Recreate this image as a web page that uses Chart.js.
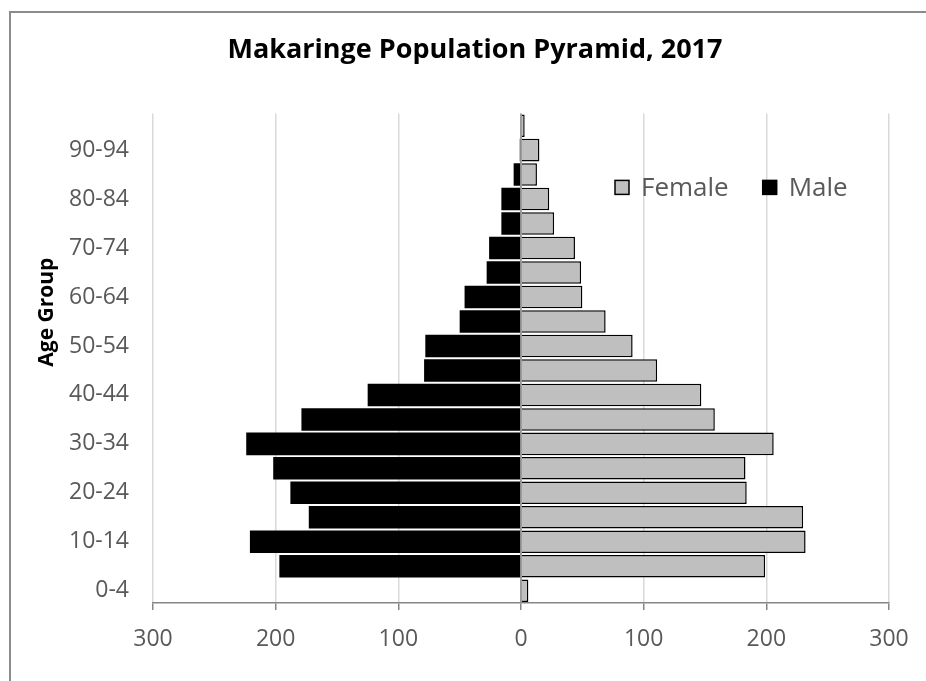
<!DOCTYPE html>
<html lang="en">
<head>
<meta charset="UTF-8" />
<title>Makaringe Population Pyramid, 2017</title>
<script src="https://cdn.jsdelivr.net/npm/chart.js"></script>
<style>
body {
    margin: 0;
    background: #fff;
    overflow: hidden;
}
.frame {
    position: absolute;
    left: 9px;
    top: 11px;
    border-left: 2px solid #8c8c8c;
    border-top: 2px solid #8c8c8c;
}
canvas { display: block; }
</style>
</head>
<body>
<div class="frame">
    <canvas id="pyramid" width="928" height="668"></canvas>
</div>
<script>
// age groups, bottom to top
const ageGroups = ['0-4', '5-9', '10-14', '15-19', '20-24', '25-29', '30-34', '35-39', '40-44', '45-49',
    '50-54', '55-59', '60-64', '65-69', '70-74', '75-79', '80-84', '85-89', '90-94', '95-99'];
const female = [6, 199, 232, 230, 184, 183, 206, 158, 147, 111, 91, 69, 50, 49, 44, 27, 23, 13, 15, 3];
const male = [0, 197, 221, 173, 188, 202, 224, 179, 125, 79, 78, 50, 46, 28, 26, 16, 16, 6, 1, 0];
const xTicks = [-300, -200, -100, 0, 100, 200, 300];

const FONT = "'Open Sans', sans-serif";

// zero axis line drawn over the bars, like the Excel vertical axis
const zeroLine = {
    id: 'zeroLine',
    afterDatasetsDraw(chart) {
        const { ctx, chartArea, scales } = chart;
        const x = scales.x.getPixelForValue(0);
        ctx.save();
        ctx.strokeStyle = '#868686';
        ctx.lineWidth = 1.5;
        ctx.beginPath();
        ctx.moveTo(x, chartArea.top);
        ctx.lineTo(x, chartArea.bottom);
        ctx.stroke();
        ctx.restore();
    }
};

// legend inside the plot (top right) and the off-centre axis title, Excel style
const extras = {
    id: 'extras',
    afterDraw(chart) {
        const { ctx, chartArea } = chart;
        const box = 14;
        const cy = chartArea.top + 74;
        let x = chartArea.left + 462;
        ctx.save();
        ctx.font = '26px ' + FONT;
        ctx.textBaseline = 'middle';
        chart.data.datasets.forEach(ds => {
            ctx.fillStyle = ds.backgroundColor;
            ctx.fillRect(x, cy - box / 2, box, box);
            ctx.strokeStyle = '#000';
            ctx.lineWidth = 1.5;
            ctx.strokeRect(x, cy - box / 2, box, box);
            ctx.fillStyle = '#595959';
            ctx.fillText(ds.label, x + 26, cy + 1);
            x += 26 + ctx.measureText(ds.label).width + 34;
        });

        ctx.translate(36, (chartArea.top + chartArea.bottom) / 2 - 46);
        ctx.rotate(-Math.PI / 2);
        ctx.font = 'bold 21px ' + FONT;
        ctx.fillStyle = '#000';
        ctx.textAlign = 'center';
        ctx.fillText('Age Group', 0, 0);
        ctx.restore();
    }
};

new Chart(document.getElementById('pyramid'), {
    type: 'bar',
    data: {
        labels: ageGroups,
        datasets: [
            {
                label: 'Female',
                data: female,
                backgroundColor: '#bfbfbf',
                borderColor: '#000',
                borderWidth: 1.5
            },
            {
                label: 'Male',
                data: male.map(v => -v),
                backgroundColor: '#000',
                borderWidth: 0
            }
        ]
    },
    options: {
        indexAxis: 'y',
        responsive: false,
        animation: false,
        devicePixelRatio: 1,
        barPercentage: 0.92,
        categoryPercentage: 1,
        plugins: {
            legend: { display: false },
            tooltip: { enabled: false },
            title: {
                display: true,
                text: 'Makaringe Population Pyramid, 2017',
                color: '#000',
                font: { family: FONT, size: 27, weight: 'bold' },
                padding: { top: 21, bottom: 47 }
            }
        },
        scales: {
            x: {
                stacked: true,
                min: -300,
                max: 300,
                afterBuildTicks: scale => { scale.ticks = xTicks.map(v => ({ value: v })); },
                afterFit: scale => { scale.height = 78; },
                ticks: {
                    color: '#595959',
                    font: { family: FONT, size: 23 },
                    padding: 16,
                    callback: v => Math.abs(v)
                },
                grid: {
                    color: '#d9d9d9',
                    lineWidth: 1.5,
                    drawTicks: true,
                    tickLength: 7,
                    tickColor: '#868686',
                    tickWidth: 1.5
                },
                border: { display: true, color: '#868686', width: 1.5 }
            },
            y: {
                stacked: true,
                reverse: true,
                afterFit: scale => { scale.width = 142; },
                ticks: {
                    autoSkip: false,
                    color: '#595959',
                    font: { family: FONT, size: 23 },
                    padding: 16,
                    callback: (v, i) => (i % 2 === 0 ? ageGroups[i] : '')
                },
                grid: { display: false },
                border: { display: false }
            },
            // empty right-hand axis: keeps the plot narrower while the title stays centred on the frame
            yRight: {
                type: 'category',
                position: 'right',
                afterFit: scale => { scale.width = 50; },
                ticks: { display: false },
                grid: { display: false },
                border: { display: false }
            }
        }
    },
    plugins: [zeroLine, extras]
});
</script>
</body>
</html>
